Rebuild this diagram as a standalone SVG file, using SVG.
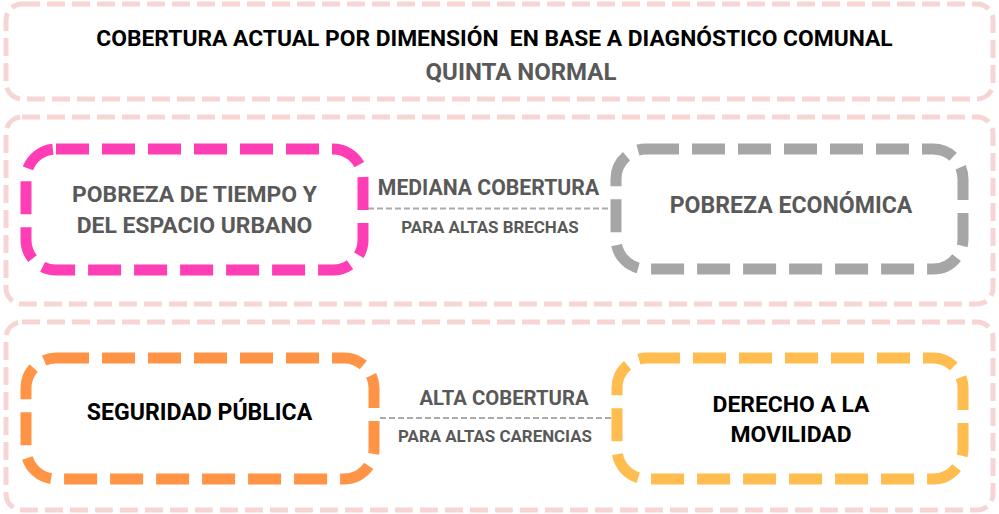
<svg xmlns="http://www.w3.org/2000/svg" width="999" height="514" viewBox="0 0 999 514">
<style>
.outer{fill:#fff;stroke:#f8d5d5;stroke-width:5;stroke-dasharray:18 7}
.node{fill:#fff;stroke-width:11;stroke-dasharray:33 13}
.t{font-family:Roboto,"Liberation Sans",sans-serif;font-weight:bold;text-anchor:middle}
.conn{stroke:#aaaaaa;stroke-width:2;stroke-dasharray:6 3;fill:none}
</style>
<rect width="999" height="514" fill="#fff"/>
<g id="header">
<rect class="outer" x="6" y="4" width="987" height="95" rx="16"/>
<text class="t" x="494.5" y="46" font-size="22.8" fill="#000" xml:space="preserve" style="white-space:pre">COBERTURA ACTUAL POR DIMENSIÓN  EN BASE A DIAGNÓSTICO COMUNAL</text>
<text class="t" x="521" y="80" font-size="24" fill="#595959">QUINTA NORMAL</text>
</g>
<g id="group-top">
<rect class="outer" x="6" y="117" width="987" height="187" rx="16"/>
</g>
<g id="group-bottom">
<rect class="outer" x="6" y="322" width="987" height="188" rx="16"/>
</g>
<g id="connectors">
<line class="conn" x1="368" y1="208.5" x2="611" y2="208.5"/>
<line class="conn" x1="380" y1="418" x2="612" y2="418"/>
<text class="t" x="488.5" y="195" font-size="21.2" fill="#595959">MEDIANA COBERTURA</text>
<text class="t" x="490" y="233" font-size="16.9" fill="#595959">PARA ALTAS BRECHAS</text>
<text class="t" x="504" y="405" font-size="20.3" fill="#595959">ALTA COBERTURA</text>
<text class="t" x="495" y="442" font-size="16.9" fill="#595959">PARA ALTAS CARENCIAS</text>
</g>
<g id="node-tiempo">
<rect class="node" x="26" y="149" width="337" height="121" rx="30" stroke="#ff3eb5"/>
<text class="t" x="194.5" y="201.5" font-size="22.9" fill="#595959">POBREZA DE TIEMPO Y</text>
<text class="t" x="194.5" y="233" font-size="22.9" fill="#595959">DEL ESPACIO URBANO</text>
</g>
<g id="node-economica">
<rect class="node" x="616" y="149" width="347" height="120" rx="30" stroke="#a6a6a6"/>
<text class="t" x="791" y="213" font-size="23.1" fill="#595959">POBREZA ECONÓMICA</text>
</g>
<g id="node-seguridad">
<rect class="node" x="26" y="358" width="348" height="121" rx="30" stroke="#ff9447"/>
<text class="t" x="199.5" y="420" font-size="23.1" fill="#000">SEGURIDAD PÚBLICA</text>
</g>
<g id="node-movilidad">
<rect class="node" x="617" y="358" width="346" height="121" rx="30" stroke="#ffbd4f"/>
<text class="t" x="791" y="412" font-size="22.9" fill="#000">DERECHO A LA</text>
<text class="t" x="791" y="442" font-size="22.9" fill="#000">MOVILIDAD</text>
</g>
</svg>
